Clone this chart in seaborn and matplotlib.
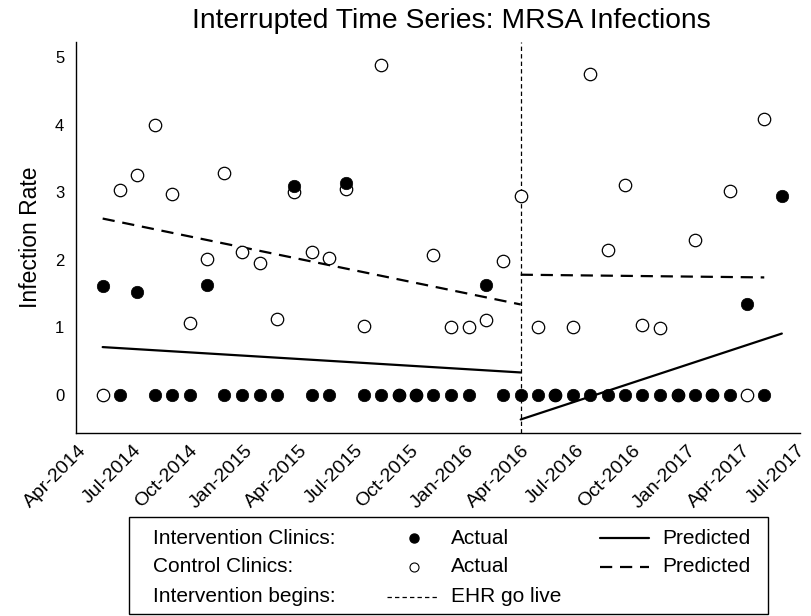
import matplotlib
matplotlib.use('Agg')

import numpy as np
import pandas as pd
import matplotlib.pyplot as plt
import matplotlib.dates as mdates
from matplotlib.lines import Line2D
from matplotlib.patches import Rectangle
import seaborn as sns

# observation dates (40 periods, intervention starts at period 24 = 2016-04-01)
dates = ["2014-05-12", "2014-06-10", "2014-07-08", "2014-08-06", "2014-09-04",
         "2014-10-03", "2014-10-31", "2014-11-29", "2014-12-28", "2015-01-26",
         "2015-02-23", "2015-03-24", "2015-04-22", "2015-05-21", "2015-06-18",
         "2015-07-17", "2015-08-15", "2015-09-13", "2015-10-11", "2015-11-09",
         "2015-12-08", "2016-01-06", "2016-02-03", "2016-03-03", "2016-04-01",
         "2016-04-30", "2016-05-28", "2016-06-26", "2016-07-25", "2016-08-23",
         "2016-09-20", "2016-10-19", "2016-11-17", "2016-12-16", "2017-01-13",
         "2017-02-11", "2017-03-12", "2017-04-10", "2017-05-08", "2017-06-06"]

intervention_actual = [1.61, 0, 1.53, 0, 0, 0, 1.63, 0, 0, 0,
                       0, 3.09, 0, 0, 3.14, 0, 0, 0, 0, 0,
                       0, 0, 1.63, 0, 0, 0, 0, 0, 0, 0,
                       0, 0, 0, 0, 0, 0, 0, 1.35, 0, 2.95]

control_actual = [0, 3.03, 3.25, 3.99, 2.98, 1.07, 2.01, 3.29, 2.12, 1.96,
                  1.13, 3.00, 2.12, 2.02, 3.04, 1.02, 4.88, 0, 0, 2.07,
                  1.01, 1.01, 1.11, 1.98, 2.95, 1.01, 0, 1.01, 4.74, 2.14,
                  3.11, 1.04, 0.99, 0, 2.29, 0, 3.02, 0, 4.08, np.nan]

# fitted segments (start / end of each period)
pred_pre_dates = ["2014-05-12", "2016-04-01"]
pred_int_pre = [0.71, 0.335]
pred_ctl_pre = [2.61, 1.34]
pred_int_post_dates = ["2016-04-01", "2017-06-06"]
pred_int_post = [-0.36, 0.91]
pred_ctl_post_dates = ["2016-04-01", "2017-05-08"]
pred_ctl_post = [1.78, 1.74]

go_live = "2016-04-01"
tick_dates = pd.date_range("2014-04-01", "2017-07-01", freq="QS-APR")

df = pd.DataFrame({"date": pd.to_datetime(dates),
                   "intervention": intervention_actual,
                   "control": control_actual})

sns.set_style("white")
plt.rcParams['font.family'] = ['Liberation Sans', 'DejaVu Sans']
plt.rcParams['text.color'] = 'black'
plt.rcParams['axes.labelcolor'] = 'black'

W, H = 812, 616
fig = plt.figure(figsize=(W / 100, H / 100), dpi=100)
ax = fig.add_axes([76 / W, 1 - 433 / H, (800 - 76) / W, (433 - 42) / H])

sns.scatterplot(data=df, x="date", y="control", ax=ax, s=80,
                facecolor="white", edgecolor="black", linewidth=0.9, zorder=3)
sns.scatterplot(data=df, x="date", y="intervention", ax=ax, s=80,
                color="black", edgecolor="black", linewidth=0.5, zorder=4)

dash = (0, (5.5, 3.5))
sns.lineplot(x=pd.to_datetime(pred_pre_dates), y=pred_int_pre, ax=ax,
             color="black", lw=1.6, zorder=2)
sns.lineplot(x=pd.to_datetime(pred_pre_dates), y=pred_ctl_pre, ax=ax,
             color="black", lw=1.6, linestyle=dash, zorder=2)
sns.lineplot(x=pd.to_datetime(pred_int_post_dates), y=pred_int_post, ax=ax,
             color="black", lw=1.6, zorder=2)
sns.lineplot(x=pd.to_datetime(pred_ctl_post_dates), y=pred_ctl_post, ax=ax,
             color="black", lw=1.6, linestyle=dash, zorder=2)
ax.axvline(pd.Timestamp(go_live), color="black", lw=0.9, linestyle=(0, (3.5, 2.5)), zorder=1)

ax.set_xlim(pd.Timestamp("2014-03-29"), pd.Timestamp("2017-07-06"))
ax.set_ylim(-0.56, 5.22)
ax.set_yticks([0, 1, 2, 3, 4, 5])
ax.set_xticks(tick_dates)
ax.xaxis.set_major_formatter(mdates.DateFormatter("%b-%Y"))
ax.tick_params(axis="both", direction="out", length=5, width=0.9,
               color="black", labelcolor="black")
ax.tick_params(axis="y", labelsize=12)
ax.tick_params(axis="x", labelsize=14, pad=1.5)
plt.setp(ax.get_xticklabels(), rotation=45, ha="right", rotation_mode="anchor")
ax.set_xlabel("")
ax.set_ylabel("Infection Rate", fontsize=16.5, labelpad=9, color="black")
for side in ["top", "right"]:
    ax.spines[side].set_visible(False)
for side in ["left", "bottom"]:
    ax.spines[side].set_color("black")
    ax.spines[side].set_linewidth(1.0)

fig.text(451 / W, 1 - 21 / H, "Interrupted Time Series: MRSA Infections",
         ha="center", va="center", fontsize=20.3, color="black")

# legend box drawn in figure pixels
def fx(px):
    return px / W

def fy(py):
    return 1 - py / H

fig.add_artist(Rectangle((fx(129), fy(614)), fx(768) - fx(129), fy(517) - fy(614),
                         transform=fig.transFigure, fill=False, edgecolor="black", lw=1.0))
fs = 15
rows = [538, 567, 597]
labels = ["Intervention Clinics:", "Control Clinics:", "Intervention begins:"]
for r, lab in zip(rows, labels):
    fig.text(fx(153), fy(r), lab, ha="left", va="center", fontsize=fs)
fig.add_artist(Line2D([fx(414)], [fy(rows[0])], marker="o", ms=6.5, color="black",
                      mfc="black", transform=fig.transFigure))
fig.add_artist(Line2D([fx(414)], [fy(rows[1])], marker="o", ms=6.5, color="black",
                      mfc="white", mew=0.8, transform=fig.transFigure))
fig.text(fx(451), fy(rows[0]), "Actual", ha="left", va="center", fontsize=fs)
fig.text(fx(451), fy(rows[1]), "Actual", ha="left", va="center", fontsize=fs)
fig.add_artist(Line2D([fx(387), fx(438)], [fy(rows[2])] * 2, color="black", lw=0.9,
                      linestyle=(0, (3.5, 2.5)), transform=fig.transFigure))
fig.text(fx(451), fy(rows[2]), "EHR go live", ha="left", va="center", fontsize=fs)
fig.add_artist(Line2D([fx(600), fx(649)], [fy(rows[0])] * 2, color="black", lw=1.6,
                      transform=fig.transFigure))
fig.add_artist(Line2D([fx(600), fx(649)], [fy(rows[1])] * 2, color="black", lw=1.6,
                      linestyle=dash, transform=fig.transFigure))
fig.text(fx(662), fy(rows[0]), "Predicted", ha="left", va="center", fontsize=fs)
fig.text(fx(662), fy(rows[1]), "Predicted", ha="left", va="center", fontsize=fs)

fig.savefig("out.png", dpi=100)
